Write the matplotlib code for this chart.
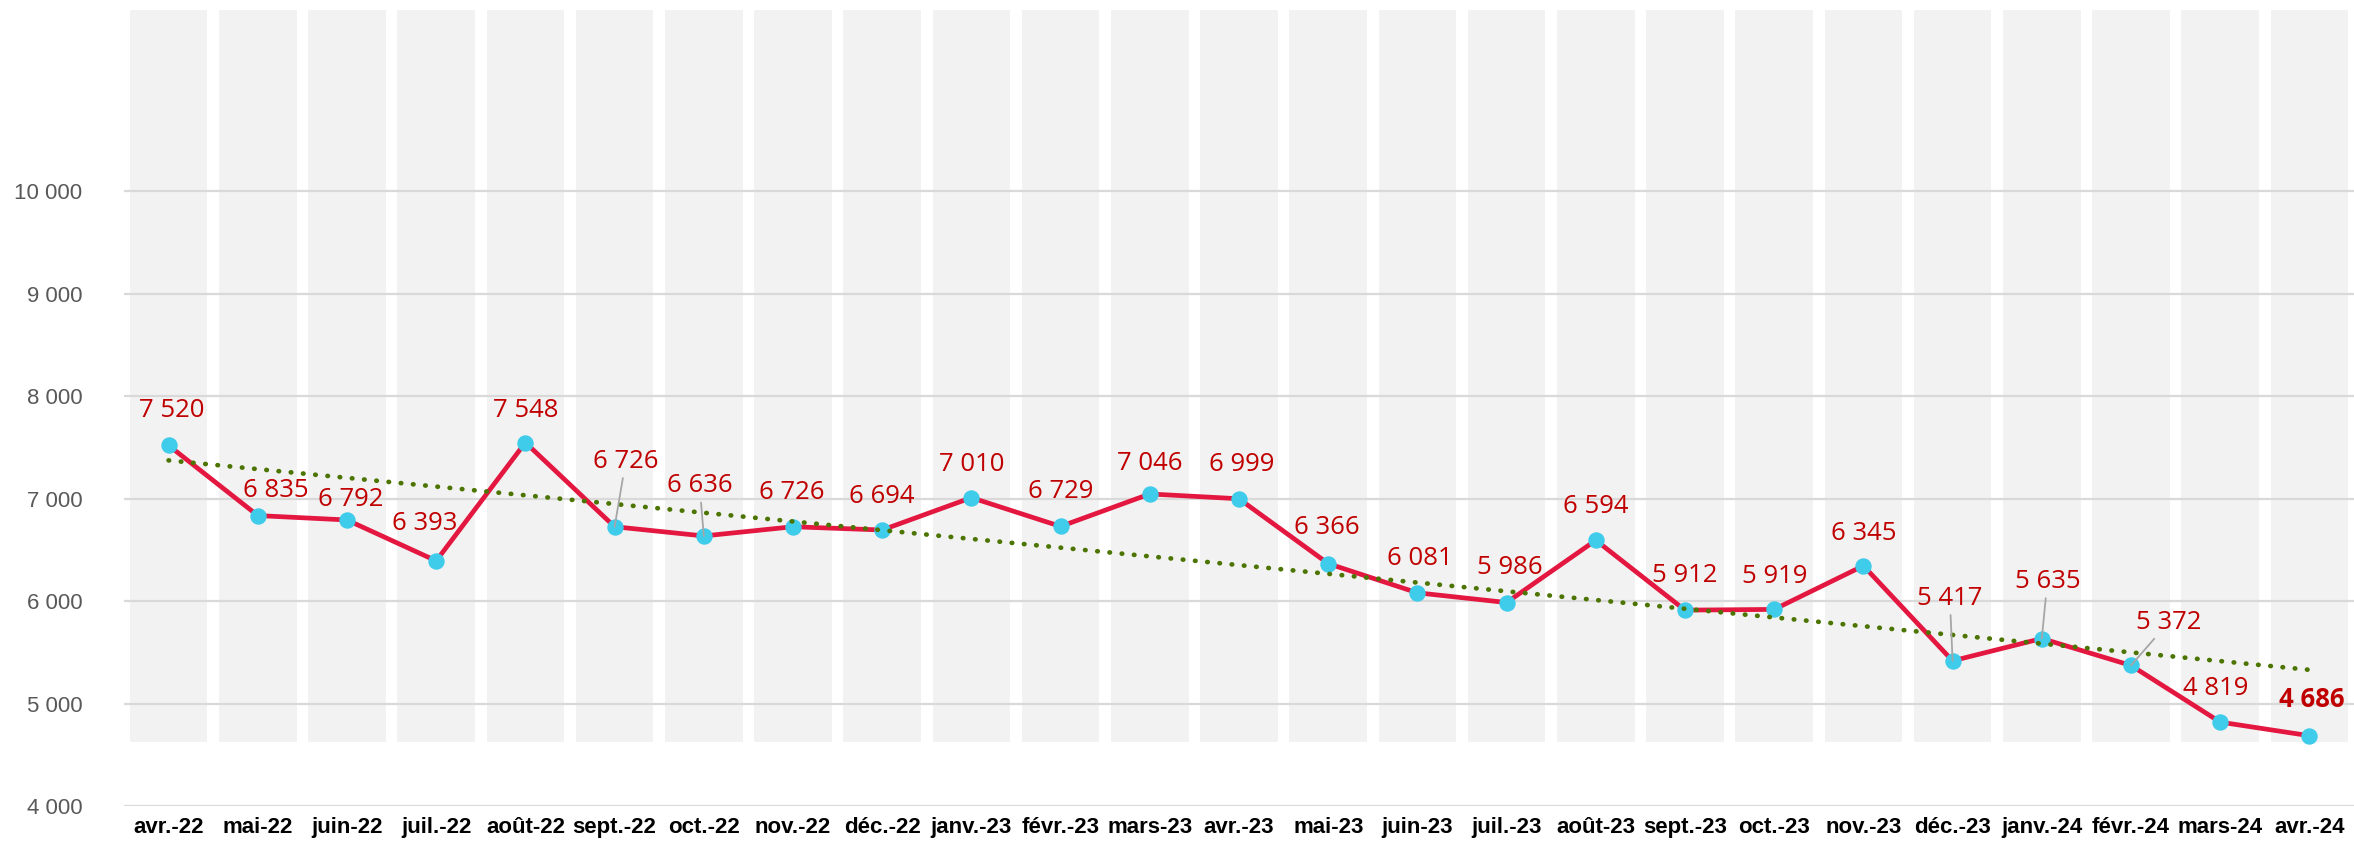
import numpy as np
import matplotlib
matplotlib.use("Agg")
import matplotlib.pyplot as plt

months = ["avr.-22", "mai-22", "juin-22", "juil.-22", "août-22", "sept.-22", "oct.-22",
          "nov.-22", "déc.-22", "janv.-23", "févr.-23", "mars-23", "avr.-23", "mai-23",
          "juin-23", "juil.-23", "août-23", "sept.-23", "oct.-23", "nov.-23", "déc.-23",
          "janv.-24", "févr.-24", "mars-24", "avr.-24"]
values = [7520, 6835, 6792, 6393, 7548, 6726, 6636, 6726, 6694, 7010, 6729, 7046, 6999,
          6366, 6081, 5986, 6594, 5912, 5919, 6345, 5417, 5635, 5372, 4819, 4686]

# label offsets in points (dx, dy) and which labels get a leader line
label_offsets = [(2, 25), (13, 18), (3, 15), (-8, 27), (0, 23), (8, 47), (-3, 36),
                 (-1, 25), (0, 24), (0, 24), (0, 25), (0, 22), (2, 25), (-1, 26),
                 (2, 25), (2, 25), (0, 24), (0, 25), (0, 24), (0, 23), (-2, 45),
                 (4, 41), (27, 31), (-3, 24), (2, 26)]
leaders = [5, 6, 20, 21, 22]

W, H = 2354, 842
fig = plt.figure(figsize=(W / 100, H / 100), dpi=100)
ax = fig.add_axes([124 / W, 36 / H, (W - 124) / W, 796 / H])

x = np.arange(len(months))
y_top = 11770
ax.bar(x, y_top - 4620, bottom=4620, width=0.87, color="#F2F2F2", zorder=0)

for yv in range(4000, 10001, 1000):
    ax.axhline(yv, color="#D9D9D9", lw=1.6, zorder=1)

ax.plot(x, values, color="#E3173F", lw=3.4, zorder=3, solid_joinstyle="round")
ax.plot(x, values, "o", color="#3ECCEA", ms=10.8, zorder=4)

# linear trend line
k, b = np.polyfit(x, values, 1)
ax.plot([x[0], x[-1]], [b, k * x[-1] + b], color="#4C7400", lw=3.4,
        linestyle=(0, (0.1, 2.5)), dash_capstyle="round", zorder=5)

for i, v in enumerate(values):
    txt = f"{v:,}".replace(",", " ")
    bold = i == len(values) - 1
    arrow = None
    if i in leaders:
        arrow = dict(arrowstyle="-", color="#A6A6A6", lw=1.3, shrinkA=1, shrinkB=0)
    ax.annotate(txt, (x[i], v), xytext=label_offsets[i], textcoords="offset points",
                ha="center", va="center", fontsize=18.5, color="#C00000",
                family=["Open Sans", "DejaVu Sans"],
                fontweight="bold" if bold else "normal",
                arrowprops=arrow, zorder=6)

ax.set_xlim(-0.5, len(months) - 0.5)
ax.set_ylim(4000, y_top)
ax.set_yticks(range(4000, 10001, 1000))
ax.set_yticklabels([f"{t:,}".replace(",", " ") for t in range(4000, 10001, 1000)],
                   fontsize=16, color="#595959", family="Liberation Sans")
ax.set_xticks(x)
ax.set_xticklabels(months, fontsize=16, fontweight="bold", color="#000000",
                   family="Liberation Sans")
ax.tick_params(axis="y", length=0, pad=30)
ax.tick_params(axis="x", length=0, pad=8)
for s in ax.spines.values():
    s.set_visible(False)

fig.savefig("out.png", dpi=100, facecolor="white")
